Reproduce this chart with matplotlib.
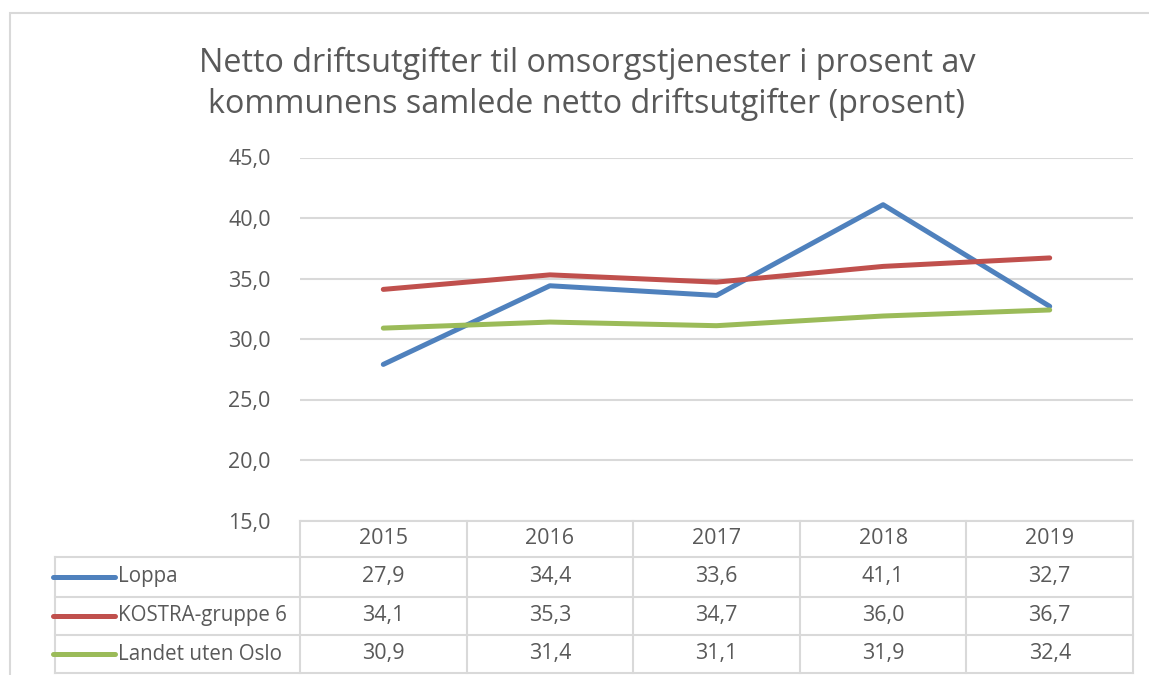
import matplotlib.pyplot as plt
from matplotlib.lines import Line2D
from matplotlib.patches import Rectangle
import matplotlib.transforms as mtransforms

plt.rcParams['font.family'] = ['Open Sans', 'DejaVu Sans']

# data
years = ['2015', '2016', '2017', '2018', '2019']
series_names = ['Loppa', 'KOSTRA-gruppe 6', 'Landet uten Oslo']
loppa = [27.9, 34.4, 33.6, 41.1, 32.7]
kostra6 = [34.1, 35.3, 34.7, 36.0, 36.7]
landet = [30.9, 31.4, 31.1, 31.9, 32.4]
series_values = [loppa, kostra6, landet]
colors = ['#4F81BD', '#C0504D', '#9BBB59']

W, H = 1149, 675
txt = '#595959'
grid = '#D9D9D9'

fig = plt.figure(figsize=(W / 100, H / 100), dpi=100)

def px(x, y):
    # pixel (from top-left) to figure fraction
    return x / W, 1 - y / H

# outer chart frame
fig.patches.append(Rectangle(px(10, 700), 1.2, (700 - 13) / H, transform=fig.transFigure,
                             fill=False, edgecolor=grid, lw=1.5))

left, right, top, bottom = 300, 1133, 157.5, 520.5
ax = fig.add_axes([left / W, 1 - bottom / H, (right - left) / W, (bottom - top) / H])

x = range(len(years))
for vals, c, name in zip(series_values, colors, series_names):
    ax.plot(x, vals, color=c, lw=3.6, solid_capstyle='round', label=name, zorder=3)

ax.set_xlim(-0.5, len(years) - 0.5)
ax.set_ylim(15, 45)
ax.set_yticks(range(15, 46, 5))
ax.set_yticklabels([f'{v:.1f}'.replace('.', ',') for v in range(15, 46, 5)])
ax.set_xticks([])
ax.grid(axis='y', color=grid, lw=1.5)
ax.set_axisbelow(True)
for s in ax.spines.values():
    s.set_visible(False)
ax.tick_params(axis='y', length=0, pad=21, labelsize=15.5, labelcolor=txt)

fig.text(587 / W, 1 - 63 / H, 'Netto driftsutgifter til omsorgstjenester i prosent av',
         ha='center', va='center', fontsize=23.3, color=txt)
fig.text(587 / W, 1 - 104 / H, 'kommunens samlede netto driftsutgifter (prosent)',
         ha='center', va='center', fontsize=23.3, color=txt)

# data table below the plot, columns follow the x axis
tr = mtransforms.blended_transform_factory(ax.transData, fig.transFigure)
row_edges = [520.5, 557, 596.5, 635, 673]
y_edges = [1 - r / H for r in row_edges]
xmin, xmax = -0.5, len(years) - 0.5
leg_left = xmin - (left - 55) / ((right - left) / len(years))
unit = (right - left) / len(years)

def line(x0, x1, y0, y1):
    fig.add_artist(Line2D([x0, x1], [y0, y1], transform=tr, color=grid, lw=1.5))

line(xmin, xmax, y_edges[0], y_edges[0])
for ye in y_edges[1:]:
    line(leg_left, xmax, ye, ye)
for i in range(len(years) + 1):
    line(xmin + i, xmin + i, y_edges[0], y_edges[-1])
line(leg_left, leg_left, y_edges[1], y_edges[-1])

for i, yr in enumerate(years):
    fig.text(i, (y_edges[0] + y_edges[1]) / 2, yr, transform=tr, ha='center', va='center',
             fontsize=15.5, color=txt)

for r, (name, vals, c) in enumerate(zip(series_names, series_values, colors)):
    yc = (y_edges[r + 1] + y_edges[r + 2]) / 2
    x0 = leg_left - 2 / unit
    fig.add_artist(Line2D([x0, x0 + 62 / unit], [yc, yc], transform=tr, color=c, lw=3.6,
                          solid_capstyle='round'))
    fig.text(leg_left + 63 / unit, yc, name, transform=tr, ha='left', va='center',
             fontsize=14.8, color=txt)
    for i, v in enumerate(vals):
        fig.text(i, yc, f'{v:.1f}'.replace('.', ','), transform=tr, ha='center', va='center',
                 fontsize=15.5, color=txt)

plt.savefig('out.png', dpi=100)
